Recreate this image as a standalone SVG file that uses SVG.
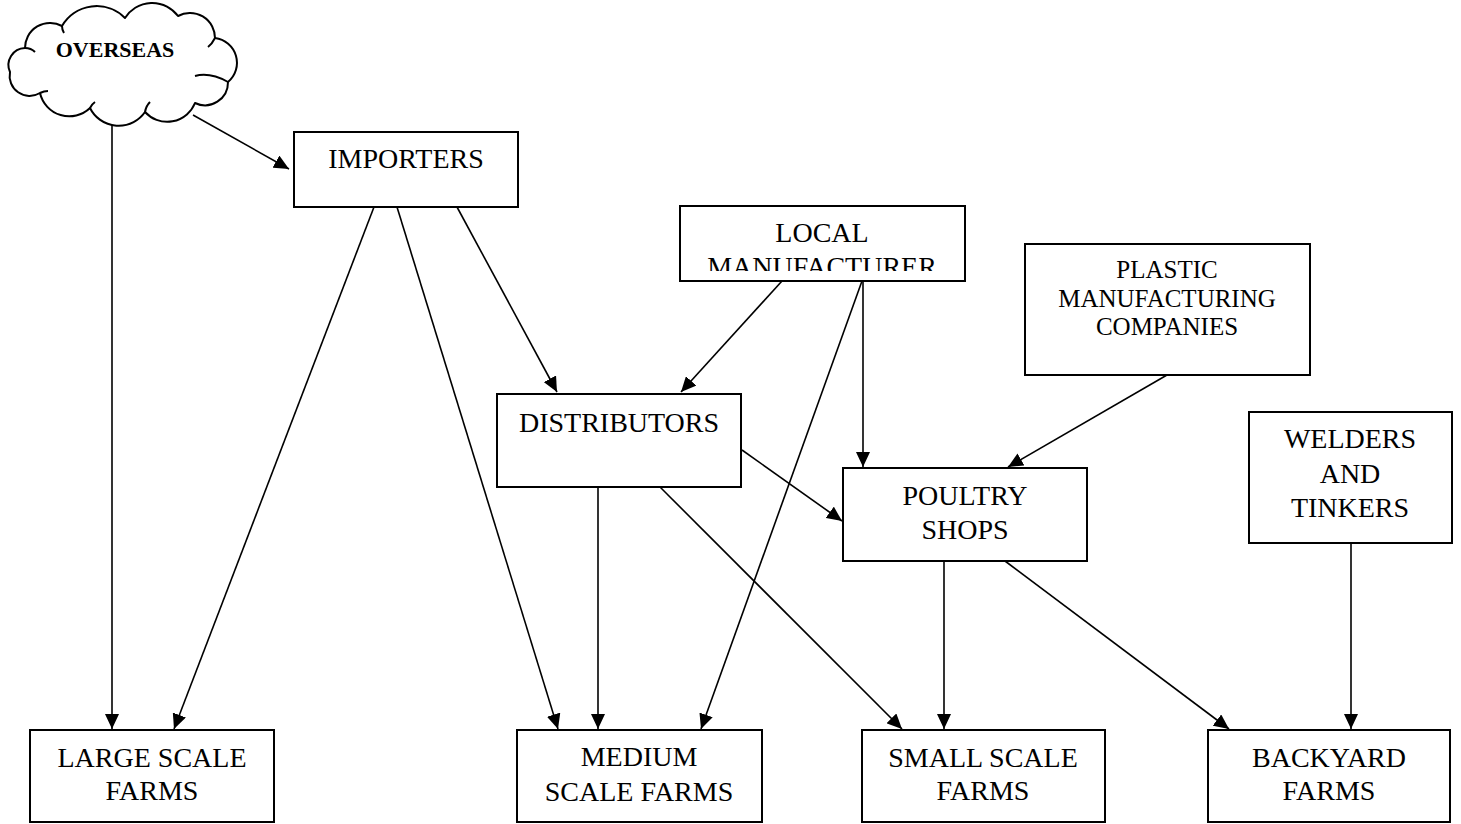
<svg xmlns="http://www.w3.org/2000/svg" width="1461" height="824" viewBox="0 0 1461 824">
<style>
.box{fill:#fff;stroke:#000;stroke-width:2}
.t{font-family:"Liberation Serif","Times New Roman",serif;font-size:28px;text-anchor:middle;fill:#000}
.ts{font-size:25px}
.tb{font-weight:bold;font-size:22px}
.c line{stroke:#000;stroke-width:1.6;marker-end:url(#ah)}
.cloud{fill:#fff;stroke:#000;stroke-width:2;stroke-linejoin:round}
.curl{fill:none;stroke:#000;stroke-width:2}
</style>
<defs>
<marker id="ah" markerUnits="userSpaceOnUse" markerWidth="16" markerHeight="14" refX="15" refY="7" orient="auto">
<path d="M0,0 L15,7 L0,14 Z" fill="#000"/>
</marker>
<clipPath id="clipLocal"><rect x="681" y="207" width="283" height="64"/></clipPath>
</defs>
<rect width="1461" height="824" fill="#fff"/>
<g id="connectors" class="c">
<line x1="193" y1="115" x2="289" y2="169"/>
<line x1="112" y1="125" x2="112" y2="729"/>
<line x1="374" y1="207" x2="174" y2="729"/>
<line x1="397" y1="207" x2="558" y2="729"/>
<line x1="457" y1="207" x2="557" y2="392"/>
<line x1="782" y1="281" x2="681" y2="392"/>
<line x1="862" y1="281" x2="701" y2="729"/>
<line x1="863" y1="281" x2="863" y2="467"/>
<line x1="1167" y1="375" x2="1008" y2="467"/>
<line x1="742" y1="450" x2="842" y2="521"/>
<line x1="598" y1="487" x2="598" y2="729"/>
<line x1="660" y1="487" x2="902" y2="729"/>
<line x1="944" y1="561" x2="944" y2="729"/>
<line x1="1005" y1="561" x2="1229" y2="729"/>
<line x1="1351" y1="543" x2="1351" y2="729"/>
</g>
<g id="overseas">
<path class="cloud" d="M25,48 A25,25 0 0 1 62,26 A40,40 0 0 1 125,18 A32,32 0 0 1 178,16 A25,25 0 0 1 215,38 A25,25 0 0 1 228,82 A23,23 0 0 1 195,103 A30,30 0 0 1 145,112 A32,32 0 0 1 90,108 A30,30 0 0 1 40,93 A20,20 0 0 1 10,72 A17,17 0 0 1 25,48 Z"/>
<path class="curl" d="M25,48 Q31,48 35,52"/>
<path class="curl" d="M62,26 Q62,30 64,33"/>
<path class="curl" d="M215,38 Q212,44 208,47"/>
<path class="curl" d="M228,82 Q210,72 195,76"/>
<path class="curl" d="M145,112 Q146,106 150,102"/>
<path class="curl" d="M90,108 Q92,104 95,102"/>
<path class="curl" d="M40,93 Q44,91 48,91"/>
<text class="t tb" x="115" y="57">OVERSEAS</text>
</g>
<g id="importers">
<rect class="box" x="294" y="132" width="224" height="75"/>
<text class="t" x="406" y="168">IMPORTERS</text>
</g>
<g id="local-manufacturer">
<rect class="box" x="680" y="206" width="285" height="75"/>
<text class="t" x="822" y="242">LOCAL</text>
<text class="t" x="822" y="276" clip-path="url(#clipLocal)">MANUFACTURER</text>
</g>
<g id="plastic">
<rect class="box" x="1025" y="244" width="285" height="131"/>
<text class="t ts" x="1167" y="278">PLASTIC</text>
<text class="t ts" x="1167" y="307">MANUFACTURING</text>
<text class="t ts" x="1167" y="335">COMPANIES</text>
</g>
<g id="distributors">
<rect class="box" x="497" y="394" width="244" height="93"/>
<text class="t" x="619" y="432">DISTRIBUTORS</text>
</g>
<g id="poultry-shops">
<rect class="box" x="843" y="468" width="244" height="93"/>
<text class="t" x="965" y="505">POULTRY</text>
<text class="t" x="965" y="539">SHOPS</text>
</g>
<g id="welders">
<rect class="box" x="1249" y="412" width="203" height="131"/>
<text class="t" x="1350" y="448">WELDERS</text>
<text class="t" x="1350" y="483">AND</text>
<text class="t" x="1350" y="517">TINKERS</text>
</g>
<g id="large-scale">
<rect class="box" x="30" y="730" width="244" height="92"/>
<text class="t" x="152" y="767">LARGE SCALE</text>
<text class="t" x="152" y="800">FARMS</text>
</g>
<g id="medium-scale">
<rect class="box" x="517" y="730" width="245" height="92"/>
<text class="t" x="639" y="766">MEDIUM</text>
<text class="t" x="639" y="801">SCALE FARMS</text>
</g>
<g id="small-scale">
<rect class="box" x="862" y="730" width="243" height="92"/>
<text class="t" x="983" y="767">SMALL SCALE</text>
<text class="t" x="983" y="800">FARMS</text>
</g>
<g id="backyard">
<rect class="box" x="1208" y="730" width="242" height="92"/>
<text class="t" x="1329" y="767">BACKYARD</text>
<text class="t" x="1329" y="800">FARMS</text>
</g>
</svg>
